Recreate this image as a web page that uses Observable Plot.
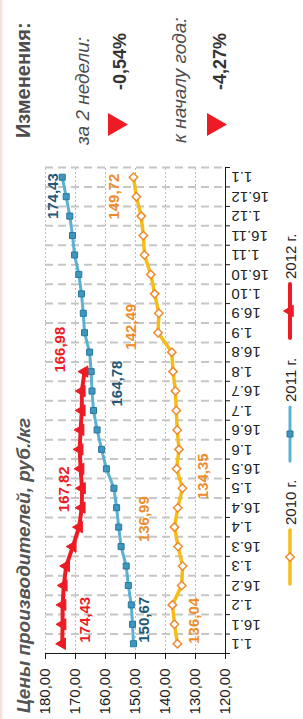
<!DOCTYPE html>
<html>
<head>
<meta charset="utf-8">
<script src="https://cdn.jsdelivr.net/npm/d3@7"></script>
<script src="https://cdn.jsdelivr.net/npm/@observablehq/plot@0.6"></script>
<style>
  html, body { margin: 0; padding: 0; background: #fff; }
  body { width: 303px; height: 719px; overflow: hidden; position: relative; font-family: 'Liberation Sans', Arial, sans-serif; }
  #edge { position: absolute; left: 0; top: 0; width: 4px; height: 719px; background: linear-gradient(to right, #f2d6cf, #fbeeea 50%, #ffffff); }
  #rot { position: absolute; left: 0; top: 0; width: 719px; height: 303px; transform-origin: 0 0; transform: translateY(719px) rotate(-90deg); }
  #chart, #overlay { position: absolute; left: 0; top: 0; }
</style>
</head>
<body>
<div id="edge"></div>
<div id="rot">
  <div id="chart"></div>
  <svg id="overlay" width="719" height="303"></svg>
</div>
<script>
// ---- data ----
const dateLabels = ["1.1","16.1","1.2","16.2","1.3","16.3","1.4","16.4","1.5","16.5","1.6","16.6","1.7","16.7","1.8","16.8","1.9","16.9","1.10","16.10","1.11","16.11","1.12","16.12","1.1"];
const valueTicks = [120, 130, 140, 150, 160, 170, 180];
const seriesNames = ["2010 г.", "2011 г.", "2012 г."];
const values2010 = [136.04, 137.0, 137.7, 134.6, 134.3, 135.8, 136.99, 135.9, 134.35, 136.3, 135.5, 136.1, 136.4, 136.7, 137.5, 137.9, 142.49, 142.2, 143.6, 144.9, 147.0, 147.4, 148.1, 149.72, 150.67];
const values2011 = [150.67, 151.0, 151.4, 152.4, 153.1, 154.8, 155.6, 156.3, 157.2, 159.7, 161.3, 162.8, 164.0, 164.5, 164.78, 165.3, 167.0, 167.4, 168.0, 168.9, 170.3, 171.0, 171.9, 173.1, 174.43];
const values2012 = [174.43, 174.3, 174.3, 173.9, 173.1, 170.9, 168.8, 167.9, 167.82, 168.3, 168.6, 168.3, 167.9, 167.89, 166.98];
const labelSeries = [2, 2, 2, 1, 1, 1, 0, 0, 0, 0, 0];
const labelIndex  = [0, 8, 14, 0, 14, 24, 0, 6, 8, 16, 23];
const changeLabels = ["Изменения:", "за 2 недели:", "-0,54%", "к началу года:", "-4,27%"];
const chartTitle = "Цены производителей, руб./кг";

// ---- layout / style (not data) ----
const FONT = "'Liberation Sans', Arial, sans-serif";
const seriesValues = [values2010, values2011, values2012];
const lineColors = ["#f6bd16", "#5bb1d3", "#ed1c24"];
const lineWidths = [3.5, 3, 4];
const labelColors = ["#ee8c2b", "#1f5977", "#ed1c24"];
const labelPlacement = [
  {a: "start", dx: 1, dy: 23},
  {a: "middle", dx: -1, dy: -18},
  {a: "start", dx: -1, dy: -24},
  {a: "start", dx: 1, dy: 10.5},
  {a: "middle", dx: -12, dy: 26},
  {a: "end", dx: 4, dy: -9},
  {a: "start", dx: 0, dy: 17},
  {a: "middle", dx: 8, dy: -30},
  {a: "middle", dx: 12, dy: 20.5},
  {a: "middle", dx: 6, dy: -26.5},
  {a: "middle", dx: 0, dy: -22}
];
const fmt = v => d3.format(".2f")(v).replace(".", ",");

const tidy = seriesValues.map((vals, s) => vals.map((v, i) => ({s, i, v})));

const marks = [
  Plot.ruleY(valueTicks.filter(v => v > 120), {stroke: "#bdbdbd", strokeWidth: 1, strokeDasharray: "2,2"}),
  Plot.ruleX(d3.range(1, dateLabels.length + 1), {stroke: "#c6c6c6", strokeWidth: 2, strokeDasharray: "8,5"}),
  Plot.ruleX([0], {stroke: "#1a1a1a", strokeWidth: 1}),
  Plot.ruleY([120], {stroke: "#1a1a1a", strokeWidth: 1}),
  Plot.axisY({ticks: valueTicks, tickSize: 5, tickPadding: 10, tickFormat: fmt, label: null, fontSize: 15, stroke: "#1a1a1a", fill: "#222"}),
  Plot.axisX({ticks: d3.range(0, dateLabels.length + 1), tickSize: 5, tickFormat: () => "", label: null, stroke: "#1a1a1a"}),
  Plot.text(dateLabels, {x: (d, i) => i + 0.5, y: 120, text: d => d, rotate: -90, textAnchor: "end", lineAnchor: "middle", dy: 6, fontSize: 15, fill: "#222"})
];

tidy.forEach((data, s) => {
  marks.push(Plot.line(data, {x: d => d.i + 0.5, y: "v", stroke: lineColors[s], strokeWidth: lineWidths[s]}));
  if (s === 0) marks.push(Plot.dot(data, {x: d => d.i + 0.5, y: "v", symbol: "diamond2", r: 3.8, fill: "#fff", stroke: "#ef8b2c", strokeWidth: 1.5}));
  if (s === 1) marks.push(Plot.dot(data, {x: d => d.i + 0.5, y: "v", symbol: "square", r: 3.4, fill: "#3d97bf", stroke: "#2a779c", strokeWidth: 1}));
  if (s === 2) marks.push(Plot.dot(data, {x: d => d.i + 0.5, y: "v", symbol: "triangle", r: 4.2, fill: "#ed1c24", stroke: "#ed1c24", strokeWidth: 1}));
});

labelSeries.forEach((s, k) => {
  const i = labelIndex[k];
  const p = labelPlacement[k];
  marks.push(Plot.text([{i, v: seriesValues[s][i]}], {
    x: d => d.i + 0.5, y: "v", text: d => fmt(d.v),
    textAnchor: p.a, lineAnchor: "middle", dx: p.dx, dy: p.dy,
    fontSize: 15, fontWeight: "bold", fill: labelColors[s]
  }));
});

const chart = Plot.plot({
  width: 719, height: 303,
  marginLeft: 65, marginRight: 168, marginTop: 45, marginBottom: 78,
  x: {type: "linear", domain: [0, dateLabels.length], axis: null},
  y: {type: "linear", domain: [120, 180], axis: null},
  style: {fontFamily: FONT, fontSize: "15px", color: "#222", background: "transparent", overflow: "visible"},
  marks
});
document.getElementById("chart").appendChild(chart);

// ---- overlay: title, change box, legend ----
const ov = d3.select("#overlay").style("font-family", FONT);
ov.append("text").attr("x", 6).attr("y", 29.5).attr("font-style", "italic").attr("font-weight", "bold").attr("font-size", 19).attr("fill", "#555").text(chartTitle);

ov.append("text").attr("x", 581).attr("y", 29.5).attr("font-weight", "bold").attr("font-size", 20).attr("fill", "#4d4d4d").text(changeLabels[0]);
ov.append("text").attr("x", 574).attr("y", 88.5).attr("font-style", "italic").attr("font-size", 19).attr("fill", "#4d4d4d").text(changeLabels[1]);
ov.append("text").attr("x", 629).attr("y", 126).attr("font-weight", "bold").attr("font-size", 18).attr("fill", "#333").text(changeLabels[2]);
ov.append("text").attr("x", 576).attr("y", 185.5).attr("font-style", "italic").attr("font-size", 19).attr("fill", "#4d4d4d").text(changeLabels[3]);
ov.append("text").attr("x", 629).attr("y", 226).attr("font-weight", "bold").attr("font-size", 18).attr("fill", "#333").text(changeLabels[4]);
[108, 207].forEach(y0 => {
  ov.append("path").attr("d", `M583,${y0}L606,${y0}L594.5,${y0 + 20}Z`).attr("fill", "#ed1c24");
});

const legendX = [135, 258, 381];
const legendSymbols = [d3.symbolDiamond2, d3.symbolSquare, d3.symbolTriangle];
const legendSizes = [45, 36, 55];
const legendFill = ["#fff", "#3d97bf", "#ed1c24"];
const legendStroke = ["#ef8b2c", "#2a779c", "#ed1c24"];
seriesNames.forEach((name, s) => {
  const x0 = legendX[s], yc = 290;
  ov.append("line").attr("x1", x0).attr("x2", x0 + 54).attr("y1", yc).attr("y2", yc).attr("stroke", lineColors[s]).attr("stroke-width", lineWidths[s]).attr("stroke-linecap", "round");
  ov.append("path").attr("d", d3.symbol(legendSymbols[s], legendSizes[s])()).attr("transform", `translate(${x0 + 27},${yc})`).attr("fill", legendFill[s]).attr("stroke", legendStroke[s]).attr("stroke-width", s === 0 ? 1.5 : 1);
  ov.append("text").attr("x", x0 + 59).attr("y", 295.5).attr("font-size", 15).attr("fill", "#222").text(name);
});
</script>
</body>
</html>
